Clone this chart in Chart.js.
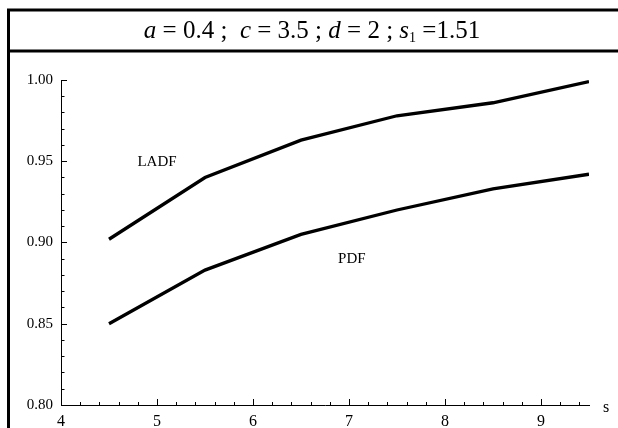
<!DOCTYPE html>
<html>
<head>
<meta charset="utf-8">
<script src="https://cdn.jsdelivr.net/npm/chart.js@4"></script>
<style>
html,body{margin:0;padding:0;background:#fff;}
#wrap{width:618px;height:428px;position:relative;}
</style>
</head>
<body>
<div id="wrap"><canvas id="c" width="618" height="428"></canvas></div>
<script>
const sValues = [4.5, 5.5, 6.5, 7.5, 8.5, 9.5];
const ladfValues = [0.902, 0.940, 0.963, 0.978, 0.986, 0.999];
const pdfValues = [0.850, 0.883, 0.905, 0.920, 0.933, 0.942];
const xTickLabels = [4, 5, 6, 7, 8, 9];
const yTickLabels = [0.80, 0.85, 0.90, 0.95, 1.00];
const seriesNames = ['LADF', 'PDF'];
const seriesLabelPos = [[5.0, 0.9495], [7.03, 0.890]];
const xAxisTitle = 's';
const titleParts = [
  {t: 'a', i: true}, {t: ' = 0.4 ;  '}, {t: 'c', i: true}, {t: ' = 3.5 ; '},
  {t: 'd', i: true}, {t: ' = 2 ; '}, {t: 's', i: true}, {t: '1', sub: true}, {t: ' =1.51'}
];

const SERIF = '"Liberation Serif", "DejaVu Serif", serif';

const decor = {
  id: 'decor',
  afterDraw(chart) {
    const ctx = chart.ctx;
    const xs = chart.scales.x, ys = chart.scales.y;
    ctx.save();
    // frame
    ctx.strokeStyle = '#000';
    ctx.lineWidth = 3;
    ctx.beginPath();
    ctx.moveTo(8.5, 428); ctx.lineTo(8.5, 10);
    ctx.lineTo(618, 10);
    ctx.moveTo(8.5, 51); ctx.lineTo(618, 51);
    ctx.stroke();
    // title
    ctx.fillStyle = '#000';
    ctx.textBaseline = 'alphabetic';
    const fs = 25;
    let total = 0;
    const widths = titleParts.map(p => {
      ctx.font = (p.i ? 'italic ' : '') + (p.sub ? 14 : fs) + 'px ' + SERIF;
      const w = ctx.measureText(p.t).width;
      total += w;
      return w;
    });
    let x = 312 - total / 2;
    titleParts.forEach((p, k) => {
      ctx.font = (p.i ? 'italic ' : '') + (p.sub ? 14 : fs) + 'px ' + SERIF;
      ctx.fillText(p.t, x, p.sub ? 42 : 38);
      x += widths[k];
    });
    // inward ticks
    ctx.lineWidth = 1;
    ctx.beginPath();
    const yb = ys.bottom;
    for (let v = xs.min; v <= xs.max + 1e-9; v += 0.2) {
      const px = Math.round(xs.getPixelForValue(v)) + 0.5;
      const major = Math.abs(v - Math.round(v)) < 1e-6;
      ctx.moveTo(px, yb); ctx.lineTo(px, yb - (major ? 6 : 3));
    }
    const xl = xs.left;
    for (let v = ys.min; v <= ys.max + 1e-9; v += 0.01) {
      const py = Math.round(ys.getPixelForValue(v)) + 0.5;
      const major = Math.abs(v * 20 - Math.round(v * 20)) < 1e-6;
      ctx.moveTo(xl, py); ctx.lineTo(xl + (major ? 6 : 3.5), py);
    }
    ctx.stroke();
    // series labels
    ctx.font = '15px ' + SERIF;
    ctx.textAlign = 'center';
    ctx.textBaseline = 'middle';
    seriesNames.forEach((n, k) => {
      ctx.fillText(n, xs.getPixelForValue(seriesLabelPos[k][0]), ys.getPixelForValue(seriesLabelPos[k][1]));
    });
    // axis title
    ctx.font = '16px ' + SERIF;
    ctx.textAlign = 'left';
    ctx.fillText(xAxisTitle, xs.right + 14, ys.bottom + 3);
    ctx.restore();
  }
};

new Chart(document.getElementById('c'), {
  type: 'line',
  data: {
    datasets: [
      {label: seriesNames[0], data: sValues.map((s, k) => ({x: s, y: ladfValues[k]}))},
      {label: seriesNames[1], data: sValues.map((s, k) => ({x: s, y: pdfValues[k]}))}
    ].map(d => Object.assign(d, {borderColor: '#000', borderWidth: 3.3, pointRadius: 0, tension: 0, fill: false}))
  },
  options: {
    responsive: false,
    animation: false,
    events: [],
    layout: {padding: {left: 0, right: 29, top: 80, bottom: 0}},
    plugins: {legend: {display: false}, tooltip: {enabled: false}, title: {display: false}},
    scales: {
      x: {
        type: 'linear', min: 4, max: 9.5,
        grid: {display: false, drawTicks: false},
        border: {display: true, color: '#000', width: 1},
        afterBuildTicks: s => { s.ticks = xTickLabels.map(v => ({value: v})); },
        afterFit: s => { s.height = 23; },
        ticks: {color: '#000', font: {family: SERIF, size: 16}, padding: 7, maxRotation: 0, autoSkip: false,
                callback: v => String(v)}
      },
      y: {
        type: 'linear', min: 0.8, max: 1.0,
        grid: {display: false, drawTicks: false},
        border: {display: true, color: '#000', width: 1},
        afterBuildTicks: s => { s.ticks = yTickLabels.map(v => ({value: v})); },
        afterFit: s => { s.width = 61; },
        ticks: {color: '#000', font: {family: SERIF, size: 15}, padding: 8, autoSkip: false,
                callback: v => Number(v).toFixed(2)}
      }
    }
  },
  plugins: [decor]
});
</script>
</body>
</html>
